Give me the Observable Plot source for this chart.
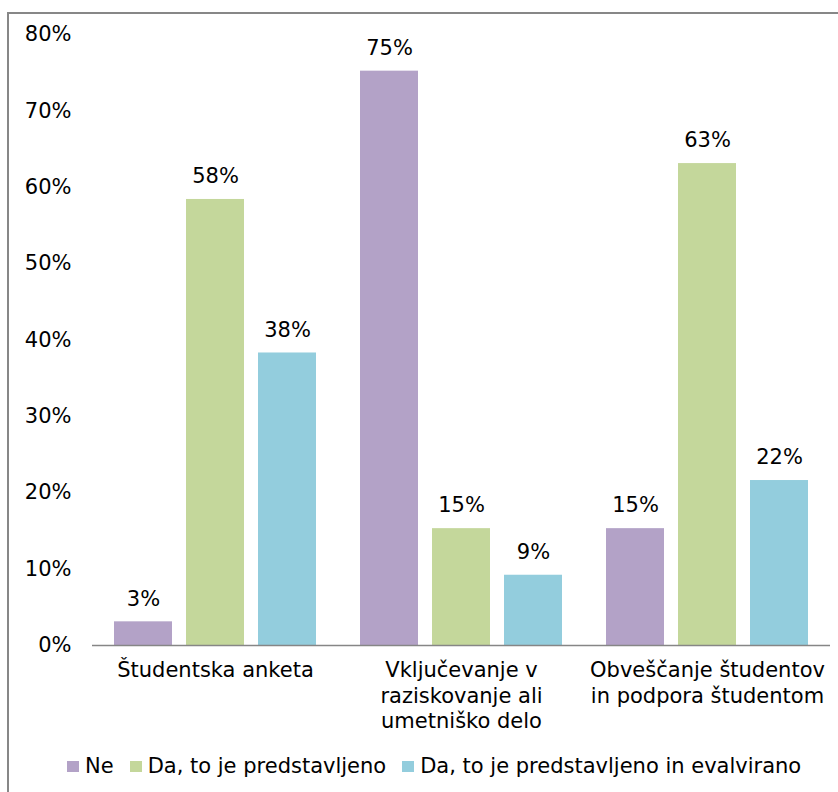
<!DOCTYPE html>
<html>
<head>
<meta charset="utf-8">
<script src="https://cdn.jsdelivr.net/npm/d3@7"></script>
<script src="https://cdn.jsdelivr.net/npm/@observablehq/plot@0.6"></script>
<style>
  html, body { margin: 0; padding: 0; background: #fff; overflow: hidden; }
  body { width: 838px; height: 792px; position: relative; font-family: "DejaVu Sans", Verdana, sans-serif; }
  #frame { position: absolute; left: 7px; top: 12px; width: 860px; height: 820px; border: 2px solid #878787; box-sizing: border-box; }
  #chart { position: absolute; left: 0; top: 0; }
  #legend { position: absolute; left: 67px; top: 754px; display: flex; align-items: center; font-size: 21px; color: #000; white-space: nowrap; }
  #legend .item { display: flex; align-items: center; margin-right: 16px; }
  #legend .sw { width: 12px; height: 11px; margin-right: 6px; }
</style>
</head>
<body>
<div id="frame"></div>
<div id="chart"></div>
<div id="legend"></div>
<script>
const groups = ["Študentska anketa", "Vključevanje v raziskovanje ali umetniško delo", "Obveščanje študentov in podpora študentom"];
const groupLabels = ["Študentska anketa", "Vključevanje v\nraziskovanje ali\numetniško delo", "Obveščanje študentov\nin podpora študentom"];
const series = ["Ne", "Da, to je predstavljeno", "Da, to je predstavljeno in evalvirano"];
const colors = ["#B3A2C7", "#C4D79B", "#93CDDD"];
const valuesNe = [0.031, 0.752, 0.153];
const valuesDa = [0.584, 0.153, 0.631];
const valuesDaEval = [0.383, 0.092, 0.216];
const yTicks = [0, 0.1, 0.2, 0.3, 0.4, 0.5, 0.6, 0.7, 0.8];

const seriesValues = [valuesNe, valuesDa, valuesDaEval];
const data = [];
groups.forEach((g, gi) => {
  series.forEach((s, si) => {
    data.push({group: g, series: s, value: seriesValues[si][gi]});
  });
});
const pct = d => Math.round(d * 100) + "%";

const chart = Plot.plot({
  width: 838,
  height: 745,
  marginLeft: 91,
  marginRight: 8,
  marginTop: 34,
  marginBottom: 100,
  style: {fontFamily: "DejaVu Sans, Verdana, sans-serif", fontSize: "21px", color: "#000", background: "transparent", overflow: "visible"},
  fx: {domain: groups, padding: 0},
  x: {domain: series, paddingInner: 0.2, paddingOuter: 0.3, axis: null},
  y: {domain: [0, 0.8]},
  color: {domain: series, range: colors},
  marks: [
    Plot.barY(data, {fx: "group", x: "series", y: "value", fill: "series"}),
    Plot.ruleY([0], {stroke: "#868686", strokeWidth: 1.3}),
    Plot.text(data, {fx: "group", x: "series", y: "value", text: d => pct(d.value), dy: -23, fill: "#000", fontSize: 21}),
    Plot.axisY({ticks: yTicks, tickFormat: pct, tickSize: 0, tickPadding: 21, label: null, fill: "#000", fontSize: 21}),
    Plot.axisFx({anchor: "bottom", tickFormat: g => groupLabels[groups.indexOf(g)], tickSize: 0, tickPadding: 14, label: null, lineHeight: 1.2, fill: "#000", fontSize: 21})
  ]
});
document.getElementById("chart").appendChild(chart);

const legend = document.getElementById("legend");
series.forEach((s, i) => {
  const item = document.createElement("div");
  item.className = "item";
  const sw = document.createElement("span");
  sw.className = "sw";
  sw.style.background = colors[i];
  const t = document.createElement("span");
  t.textContent = s;
  item.appendChild(sw);
  item.appendChild(t);
  legend.appendChild(item);
});
</script>
</body>
</html>
